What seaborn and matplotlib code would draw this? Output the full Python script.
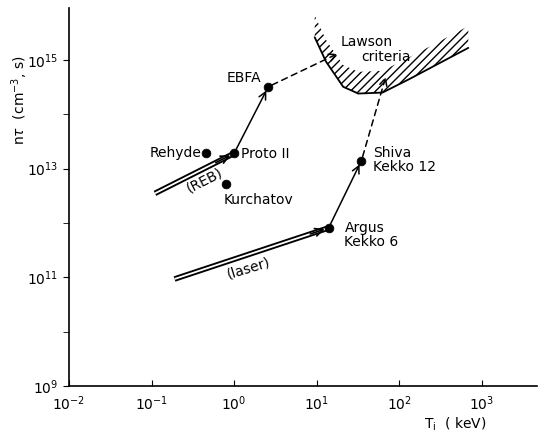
import numpy as np
import pandas as pd
import matplotlib
matplotlib.use('Agg')
import matplotlib.pyplot as plt
import seaborn as sns

sns.set_style('ticks', {'text.color': 'k', 'axes.labelcolor': 'k',
                        'xtick.color': 'k', 'ytick.color': 'k', 'axes.edgecolor': 'k'})
plt.rcParams['font.family'] = ['DejaVu Sans']

# machines: ion temperature (keV) and n*tau (cm^-3 s)
names = ['Rehyde', 'Proto II', 'Kurchatov', 'EBFA', 'Argus', 'Shiva']
Ti = [0.46, 1.0, 0.8, 2.6, 14.0, 35.0]
ntau = [1.9e13, 1.9e13, 5.2e12, 3.2e14, 8.1e11, 1.4e13]

# Lawson criterion curve
lawson_T = [9.5, 13.0, 21.0, 32.0, 63.0, 132.0, 282.0, 690.0]
lawson_nt = [2.6e15, 9.3e14, 3.2e14, 2.4e14, 2.5e14, 4.4e14, 8.1e14, 1.66e15]

# double-line approach paths (start -> end)
reb_path = ([0.11, 1.0], [3.5e12, 1.9e13])
laser_path = ([0.19, 14.0], [9.3e10, 8.1e11])

# solid arrows between machines, dashed arrows toward Lawson
solid_arrows = [('Proto II', 'EBFA'), ('Argus', 'Shiva')]
dashed_targets = {'EBFA': (18.0, 1.3e15), 'Shiva': (69.0, 4.9e14)}

df = pd.DataFrame({'name': names, 'Ti': Ti, 'ntau': ntau})
pos = {n: (t, v) for n, t, v in zip(names, Ti, ntau)}

fig = plt.figure(figsize=(5.48, 4.32), dpi=100)
ax = fig.add_axes([0.126, 0.1065, 0.854, 0.875])

# Lawson curve with hatching
lt = np.array(lawson_T)
ln = np.array(lawson_nt)
ax.fill_between(lt, ln, ln * 10**0.4, hatch='////', facecolor='none',
                edgecolor='k', linewidth=0)
sns.lineplot(x=lawson_T, y=lawson_nt, ax=ax, color='k', lw=1.3, sort=False)

# double lines with arrow heads at the end
for px, py in (reb_path, laser_path):
    ax.plot(px, py, color='k', lw=4.0, solid_capstyle='butt')
    ax.plot(px, py, color='white', lw=1.3, solid_capstyle='butt')
    slope = np.log10(py[1] / py[0]) / np.log10(px[1] / px[0])
    back = 0.6
    ax.annotate('', xy=(px[1], py[1]), xytext=(px[1] * back, py[1] * back**slope),
                arrowprops=dict(arrowstyle='->', color='k', lw=1.2, mutation_scale=14, shrinkA=0, shrinkB=3))

for a, b in solid_arrows:
    ax.annotate('', xy=pos[b], xytext=pos[a],
                arrowprops=dict(arrowstyle='->', color='k', lw=1.1, mutation_scale=13, shrinkA=3, shrinkB=3))

for a, tgt in dashed_targets.items():
    ax.annotate('', xy=tgt, xytext=pos[a],
                arrowprops=dict(arrowstyle='->', color='k', lw=1.1, ls=(0, (4, 3)), mutation_scale=13, shrinkA=3, shrinkB=0))

sns.scatterplot(data=df, x='Ti', y='ntau', ax=ax, color='k', s=40, edgecolor='k', zorder=5, legend=False)

fs = 10
ax.text(1.32, 4.7e14, 'EBFA', ha='center', va='center', fontsize=fs)
ax.text(0.40, 1.95e13, 'Rehyde', ha='right', va='center', fontsize=fs)
ax.text(1.22, 1.86e13, 'Proto II', ha='left', va='center', fontsize=fs)
ax.text(0.74, 2.6e12, 'Kurchatov', ha='left', va='center', fontsize=fs)
ax.text(0.44, 6.2e12, '(REB)', ha='center', va='center', fontsize=fs, rotation=27)
ax.text(1.5, 1.45e11, '(laser)', ha='center', va='center', fontsize=fs, rotation=17)
ax.text(48, 1.45e13, 'Shiva\nKekko 12', ha='left', va='center', fontsize=fs, linespacing=1.05)
ax.text(21.8, 6.0e11, 'Argus\nKekko 6', ha='left', va='center', fontsize=fs, linespacing=1.05)
ax.text(19.5, 2.1e15, 'Lawson', ha='left', va='center', fontsize=fs)
ax.text(34.7, 1.15e15, 'criteria', ha='left', va='center', fontsize=fs)

ax.set_xscale('log')
ax.set_yscale('log')
ax.set_xlim(1e-2, 4.7e3)
ax.set_ylim(1e9, 9e15)
ax.set_xticks([1e-2, 1e-1, 1e0, 1e1, 1e2, 1e3])
ax.xaxis.set_minor_locator(matplotlib.ticker.NullLocator())
ax.set_yticks([1e9, 1e11, 1e13, 1e15])
ax.yaxis.set_minor_locator(matplotlib.ticker.FixedLocator([1e10, 1e12, 1e14]))
ax.yaxis.set_minor_formatter(matplotlib.ticker.NullFormatter())
ax.tick_params(axis='x', direction='in', length=4, labelsize=fs, pad=6)
ax.tick_params(axis='y', which='both', direction='out', length=4, labelsize=fs)
ax.set_xlabel('')
ax.set_ylabel('')
sns.despine(ax=ax)
for s in ('left', 'bottom'):
    ax.spines[s].set_linewidth(1.2)

fig.text(455 / 548, 1 - 424 / 432, 'T$_\\mathregular{i}$  ( keV)', ha='center', va='center', fontsize=fs)
fig.text(20 / 548, 1 - 100 / 432, 'n$\\tau$  (cm$^{-3}$, s)', ha='center', va='center', fontsize=fs, rotation=90)

fig.savefig('out.png', dpi=100)
